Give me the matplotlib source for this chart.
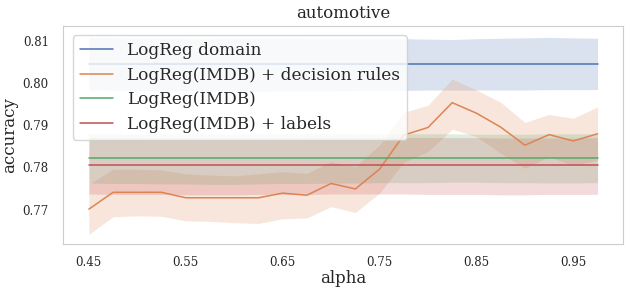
import numpy as np
import matplotlib
matplotlib.use('Agg')
import matplotlib.pyplot as plt
import seaborn as sns

sns.set_style('whitegrid')
plt.rcParams['font.family'] = ['DejaVu Serif']
plt.rcParams['axes.grid'] = False

# alpha grid
alpha = [0.45, 0.475, 0.5, 0.525, 0.55, 0.575, 0.6, 0.625, 0.65, 0.675, 0.7,
         0.725, 0.75, 0.775, 0.8, 0.825, 0.85, 0.875, 0.9, 0.925, 0.95, 0.975]

# LogReg domain (constant) with CI
domain_mean = [0.8045] * 22
domain_low = [0.7985, 0.7984, 0.7983, 0.7983, 0.7982, 0.7982, 0.7981, 0.7981, 0.7982, 0.7982, 0.7982,
              0.7983, 0.7983, 0.7983, 0.7984, 0.7984, 0.7984, 0.7984, 0.7984, 0.7985, 0.7985, 0.7985]
domain_high = [0.8109, 0.8108, 0.8107, 0.8107, 0.8106, 0.8106, 0.8107, 0.8107, 0.8107, 0.8106, 0.8106,
               0.8106, 0.8106, 0.8106, 0.8105, 0.8104, 0.8106, 0.8107, 0.8108, 0.8109, 0.8108, 0.8107]

# LogReg(IMDB) + decision rules
rules_mean = [0.7701, 0.7741, 0.7741, 0.7741, 0.7728, 0.7728, 0.7728, 0.7728, 0.7739, 0.7734, 0.7762,
              0.7749, 0.7796, 0.7877, 0.7895, 0.7954, 0.7929, 0.7896, 0.7853, 0.7878, 0.7863, 0.7880]
rules_low = [0.7641, 0.7683, 0.7685, 0.7684, 0.7673, 0.7672, 0.7669, 0.7667, 0.7678, 0.7680, 0.7707,
             0.7693, 0.7739, 0.7812, 0.7838, 0.7891, 0.7873, 0.7834, 0.7798, 0.7826, 0.7804, 0.7818]
rules_high = [0.7760, 0.7796, 0.7796, 0.7794, 0.7785, 0.7782, 0.7780, 0.7785, 0.7790, 0.7786, 0.7814,
              0.7802, 0.7853, 0.7931, 0.7948, 0.8010, 0.7984, 0.7955, 0.7907, 0.7926, 0.7917, 0.7944]

# LogReg(IMDB)
imdb_mean = [0.7822] * 22
imdb_low = [0.7763, 0.7762, 0.7762, 0.7761, 0.7761, 0.7760, 0.7760, 0.7761, 0.7762, 0.7762, 0.7763,
            0.7763, 0.7764, 0.7764, 0.7764, 0.7765, 0.7765, 0.7764, 0.7764, 0.7763, 0.7763, 0.7764]
imdb_high = [0.7880, 0.7879, 0.7879, 0.7880, 0.7880, 0.7879, 0.7879, 0.7879, 0.7880, 0.7880, 0.7880,
             0.7881, 0.7880, 0.7880, 0.7880, 0.7880, 0.7879, 0.7879, 0.7879, 0.7880, 0.7880, 0.7880]

# LogReg(IMDB) + labels
labels_mean = [0.7805] * 22
labels_low = [0.7737, 0.7736, 0.7736, 0.7736, 0.7735, 0.7735, 0.7735, 0.7736, 0.7736, 0.7736, 0.7737,
              0.7737, 0.7737, 0.7737, 0.7736, 0.7736, 0.7736, 0.7735, 0.7735, 0.7736, 0.7736, 0.7736]
labels_high = [0.7871, 0.7871, 0.7871, 0.7870, 0.7870, 0.7870, 0.7870, 0.7870, 0.7870, 0.7871, 0.7871,
               0.7871, 0.7871, 0.7871, 0.7871, 0.7871, 0.7871, 0.7870, 0.7870, 0.7870, 0.7870, 0.7871]

series = [
    ('LogReg domain', domain_mean, domain_low, domain_high),
    ('LogReg(IMDB) + decision rules', rules_mean, rules_low, rules_high),
    ('LogReg(IMDB)', imdb_mean, imdb_low, imdb_high),
    ('LogReg(IMDB) + labels', labels_mean, labels_low, labels_high),
]
colors = sns.color_palette('deep')

fig, ax = plt.subplots(figsize=(6.28, 2.93), dpi=100)
fig.subplots_adjust(left=0.101, right=0.992, bottom=0.167, top=0.911)

for i, (name, m, lo, hi) in enumerate(series):
    ax.plot(alpha, m, color=colors[i], lw=1.1, label=name)
    ax.fill_between(alpha, lo, hi, color=colors[i], alpha=0.2, lw=0)

ax.set_xticks([0.45, 0.55, 0.65, 0.75, 0.85, 0.95])
ax.set_xticklabels(['0.45', '0.55', '0.65', '0.75', '0.85', '0.95'])
ax.set_yticks([0.77, 0.78, 0.79, 0.80, 0.81])
ax.tick_params(axis='x', labelsize=8.5, pad=5)
ax.tick_params(axis='y', labelsize=8.5, pad=7)
ax.set_xlim(0.42375, 1.00125)
ax.set_ylim(0.7618, 0.8136)

ax.set_title('automotive', fontsize=12)
ax.set_xlabel('alpha', fontsize=12, labelpad=1)
ax.set_ylabel('accuracy', fontsize=12, labelpad=3)
ax.legend(loc='upper left', fontsize=12.2, borderaxespad=0.55, labelspacing=0.45)

plt.savefig('out.png', dpi=100)
